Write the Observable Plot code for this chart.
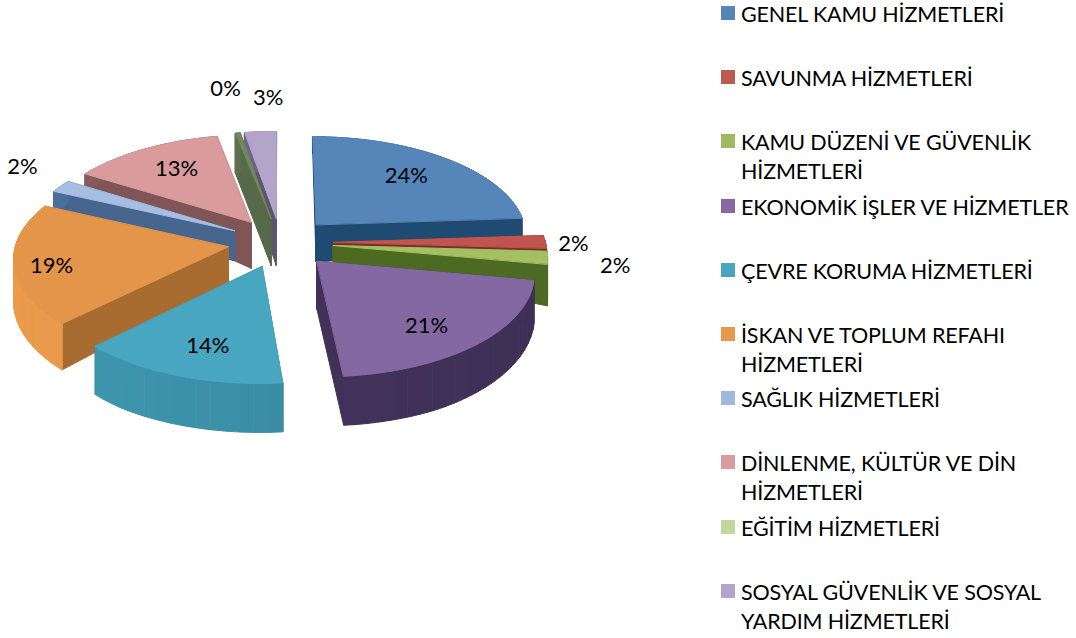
<!DOCTYPE html>
<html lang="tr">
<head>
<meta charset="utf-8">
<script src="https://cdn.jsdelivr.net/npm/d3@7"></script>
<script src="https://cdn.jsdelivr.net/npm/@observablehq/plot@0.6"></script>
<style>
html,body{margin:0;padding:0;background:#fff;width:1076px;height:638px;overflow:hidden;font-family:Lato,"Noto Sans",sans-serif;color:#000}
#wrap{position:relative;width:1076px;height:638px}
#chart{position:absolute;left:0;top:0}
#legend{position:absolute;left:721px;top:0;width:355px;display:grid;grid-auto-rows:64.2px}
.item{display:flex;align-items:flex-start;font-size:21.5px;line-height:29px;letter-spacing:-.15px}
.sw{flex:none;width:14px;height:14px;margin:6px 6px 0 0}
</style>
</head>
<body>
<div id="wrap"><div id="chart"></div><div id="legend"></div></div>
<script>
// ---- data
const categories = ["GENEL KAMU HİZMETLERİ","SAVUNMA HİZMETLERİ","KAMU DÜZENİ VE GÜVENLİK HİZMETLERİ","EKONOMİK İŞLER VE HİZMETLER","ÇEVRE KORUMA HİZMETLERİ","İSKAN VE TOPLUM REFAHI HİZMETLERİ","SAĞLIK HİZMETLERİ","DİNLENME, KÜLTÜR VE DİN HİZMETLERİ","EĞİTİM HİZMETLERİ","SOSYAL GÜVENLİK VE SOSYAL YARDIM HİZMETLERİ"];
const shares = [23.9,2,2,20.6,14,19.4,2,13,0.4,2.7];
// ---- styling
const topColors    = ["#5585b9","#c0554f","#a5c063","#8468a1","#49a6c0","#e3964a","#a5bee2","#d99b9b","#71875f","#b3a5c9"];
const legendColors = ["#5585b9","#bc5a53","#a0b862","#8768a2","#49a6c0","#e8984a","#a0b8dc","#d99b9b","#c3d69b","#b3a5c9"];
const arcColors    = ["#23507a","#7c2f2a","#55722a","#43335c","#3a8ca4","#d88e45","#47668f","#7f5555","#5d6e4c","#6b6283"];
const faceColors   = ["#1f4a72","#7c2f2a","#4d6a22","#413058","#2f7d92","#a96c30","#47668f","#7f5555","#56694a","#5c5570"];
const paintOrder   = [0,9,8,7,6,5,4,1,2,3];
const labelRadius  = [0.71,1.13,1.31,0.75,0.74,0.83,1.30,0.70,1.59,1.44];
const labelTurn    = [-2,1,2,4,-2,-3,4,1,1,3];
const apexDepth    = [37,8,16,48,49,35,30,46,47,47];
const rimDepth     = [null,null,null,null,null,null,null,null,40,40];
// ---- projection of the exploded, tilted pie
const W = 700, H = 638;
const view = {cx:280, cy:242, rx:212, ry:100, k:0.10, explode:0.25};
const depthAt = d3.scaleLinear([170,225,360],[17,39,49]).clamp(true);
const project = (X,Y) => { const w = 1 - view.k*Y; return [view.cx + view.rx*X/w, view.cy + view.ry*Y/w]; };
const arcs = d3.pie().sort(null).value(d=>d)(shares);
const polys = [];
const slices = arcs.map((a,i)=>{
  const mid = (a.startAngle+a.endAngle)/2;
  const ox = view.explode*Math.sin(mid), oy = -view.explode*Math.cos(mid);
  const pt = (r,t)=>project(ox + r*Math.sin(t), oy - r*Math.cos(t));
  return {i,mid,ox,oy,pt,a0:a.startAngle,a1:a.endAngle};
});
const face = (id,color,pts)=>pts.forEach(p=>polys.push({id,color,x:p[0],y:p[1]}));
for (const i of paintOrder) {
  const s = slices[i];
  const n = Math.max(2,Math.ceil((s.a1-s.a0)/0.02));
  const rim = d3.range(n+1).map(j=>s.pt(1,s.a0+(s.a1-s.a0)*j/n));
  const apex = s.pt(0,0);
  const drop = p=>[p[0],p[1]+(rimDepth[i] ?? depthAt(p[1]))];
  const apexDrop = [apex[0],apex[1]+apexDepth[i]];
  // radial walls
  face(`w0-${i}`,faceColors[i],[apex,rim[0],drop(rim[0]),apexDrop]);
  face(`w1-${i}`,faceColors[i],[apex,rim[n],drop(rim[n]),apexDrop]);
  // outer wall, shaded along the rim in coarse bands
  const base = d3.color(arcColors[i]);
  const step = 3;
  for (let j=0;j<n;j+=step){
    const e = Math.min(n,j+step);
    const part = rim.slice(j,e+1);
    const f = (rim[j][0]+rim[e][0])/2/W;
    const shade = d3.interpolateRgb(base.brighter(0.25),base.darker(0.2))(f/0.75);
    face(`a${j}-${i}`,shade,[...part,...part.map(drop).reverse()]);
  }
  face(`t-${i}`,topColors[i],[apex,...rim]);
}
const labels = slices.map(s=>{
  const t = s.mid + labelTurn[s.i]*Math.PI/180;
  const [x,y] = s.pt(labelRadius[s.i],t);
  return {x,y,text:d3.format(".0f")(shares[s.i])+"%"};
});
const chart = Plot.plot({
  width:W,height:H,margin:0,
  style:{background:"transparent",overflow:"visible"},
  x:{domain:[0,W],range:[0,W],axis:null},
  y:{domain:[0,H],range:[0,H],axis:null},
  color:{type:"identity"},
  marks:[
    Plot.line(polys,{x:"x",y:"y",z:"id",fill:"color",stroke:"color",strokeWidth:1,curve:"linear-closed"}),
    Plot.text(labels,{x:"x",y:"y",text:"text",fontSize:22,fontFamily:"Lato, sans-serif",fill:"#000"})
  ]
});
document.getElementById("chart").append(chart);
const legend = d3.select("#legend");
categories.forEach((c,i)=>{
  const row = legend.append("div").attr("class","item");
  row.append("div").attr("class","sw").style("background",legendColors[i]);
  row.append("div").text(c);
});
</script>
</body>
</html>
